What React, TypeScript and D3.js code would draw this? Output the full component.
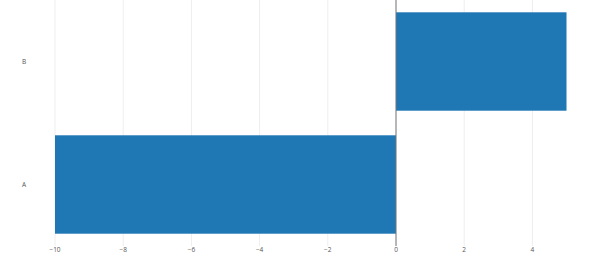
import React from "react";
import * as d3 from "d3";

const categories = ["A", "B"];
const values = [-10, 5];
const xTicks = [-10, -8, -6, -4, -2, 0, 2, 4];

export default function App() {
  const W = 600, H = 261;
  const left = 55, right = 566.5, top = 0, bottom = 246;
  const x = d3.scaleLinear().domain([-10, 5]).range([left, right]);
  const y = d3.scaleBand<string>().domain([...categories].reverse()).range([top, bottom]).paddingInner(0.2).paddingOuter(0.1);
  return (
    <svg width={W} height={H} style={{ position: "absolute", left: 0, top: 0, fontFamily: "'Open Sans', sans-serif" }}>
      <rect width={W} height={H} fill="#fff" />
      {xTicks.map((t) => (
        <line key={"g" + t} x1={x(t)} x2={x(t)} y1={top} y2={bottom} stroke="#eeeeee" strokeWidth={1} />
      ))}
      {categories.map((c, i) => {
        const v = values[i];
        const x0 = x(Math.min(0, v));
        const x1 = x(Math.max(0, v));
        return <rect key={c} x={x0} y={y(c)} width={x1 - x0} height={y.bandwidth()} fill="#1f77b4" />;
      })}
      <line x1={x(0)} x2={x(0)} y1={top} y2={bottom} stroke="#777" strokeWidth={1} />
      {xTicks.map((t) => (
        <text key={"t" + t} x={x(t)} y={252} fontSize={6.5} fill="#555" textAnchor="middle">
          {t < 0 ? "\u2212" + Math.abs(t) : String(t)}
        </text>
      ))}
      {categories.map((c) => (
        <text key={"l" + c} x={24} y={(y(c) ?? 0) + y.bandwidth() / 2 + 2.3} fontSize={6.5} fill="#555" textAnchor="middle">
          {c}
        </text>
      ))}
    </svg>
  );
}
